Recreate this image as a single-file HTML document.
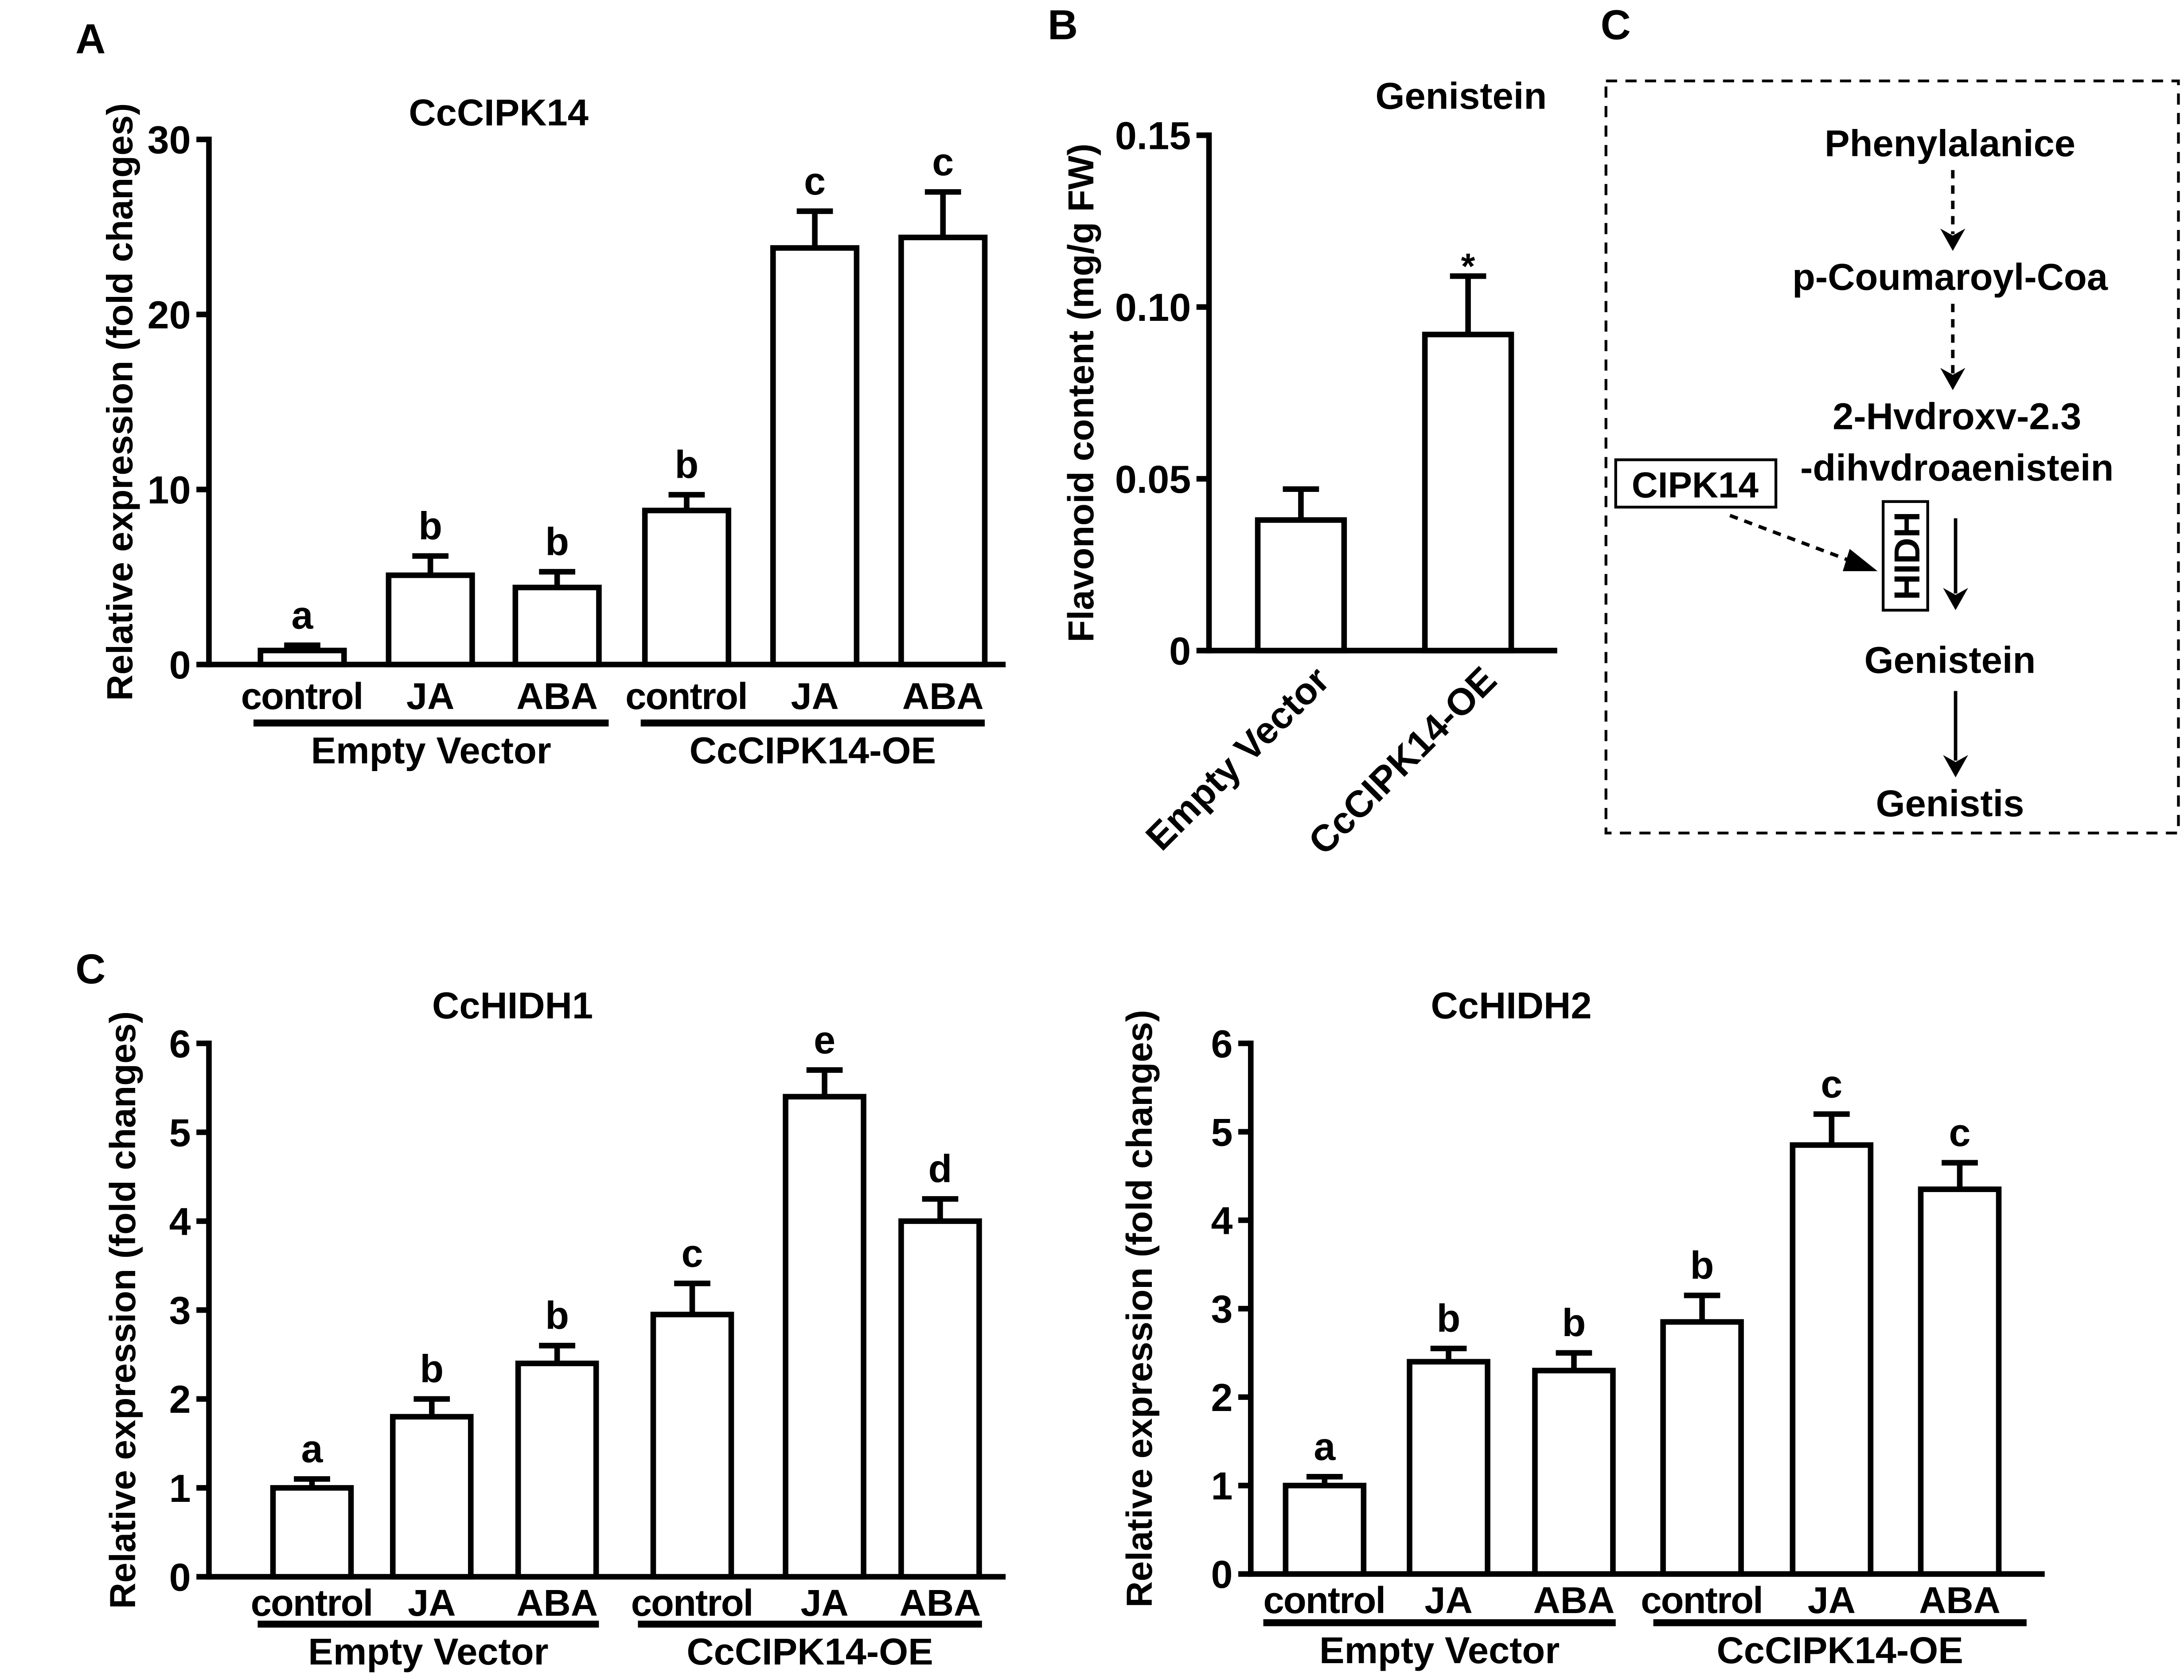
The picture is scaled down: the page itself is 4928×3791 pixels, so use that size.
<!DOCTYPE html>
<html><head><meta charset="utf-8"><style>
html,body{margin:0;padding:0;background:#fff;}
svg{display:block;}
text{font-family:"Liberation Sans",Arial,sans-serif;font-weight:bold;fill:#000;}
</style></head><body>
<svg id="fig" width="4928" height="3791" viewBox="0 0 1568 1206" xmlns="http://www.w3.org/2000/svg">
<rect width="1568" height="1206" fill="#fff"/>
<g id="root"></g>
</svg>
<script>
// Panel A data
const catsA = ["control","JA","ABA","control","JA","ABA"];
const valsA = [0.8, 5.1, 4.4, 8.8, 23.8, 24.4];
const errA = [1.1, 6.2, 5.3, 9.7, 25.9, 27.0];
const lettersA = ["a","b","b","b","c","c"];
const ticksA = [0,10,20,30];
// Panel B data
const catsB = ["Empty Vector","CcCIPK14-OE"];
const valsB = [0.038, 0.092];
const errB = [0.047, 0.109];
const ticksB = [0,0.05,0.10,0.15];
const tickLabelsB = ["0","0.05","0.10","0.15"];
// HIDH1
const valsH1 = [1.0, 1.8, 2.4, 2.95, 5.4, 4.0];
const errH1 = [1.1, 2.0, 2.6, 3.3, 5.7, 4.25];
const lettersH1 = ["a","b","b","c","e","d"];
// HIDH2
const valsH2 = [1.0, 2.4, 2.3, 2.85, 4.85, 4.35];
const errH2 = [1.1, 2.55, 2.5, 3.15, 5.2, 4.65];
const lettersH2 = ["a","b","b","b","c","c"];
const ticksH = [0,1,2,3,4,5,6];
const groups = ["Empty Vector","CcCIPK14-OE"];

const NS="http://www.w3.org/2000/svg";
const root=document.getElementById('root');
function mk(tag,attrs,parent,txt){const e=document.createElementNS(NS,tag);for(const k in attrs)e.setAttribute(k,attrs[k]);if(txt!==undefined)e.textContent=txt;(parent||root).appendChild(e);return e;}

function panel(cfg){
  const g=mk('g',{});
  
  
  const y=v=>cfg.y0-(v-cfg.min)/(cfg.max-cfg.min)*(cfg.y0-cfg.y1);
  const ax=mk('line',{x1:cfg.ax,y1:cfg.y1-2,x2:cfg.ax,y2:cfg.y0+2,stroke:'#000','stroke-width':4},g);
  
  
  const bx=mk('line',{x1:cfg.ax-2,y1:cfg.y0,x2:cfg.xend,y2:cfg.y0,stroke:'#000','stroke-width':4},g);
  
  
  cfg.ticks.forEach((t,i)=>{
    mk('line',{x1:cfg.ax-9,y1:y(t),x2:cfg.ax,y2:y(t),stroke:'#000','stroke-width':4},g);
    const tl=mk('text',{x:cfg.ax-13,y:y(t)+10,'font-size':28,'text-anchor':'end'},g,cfg.tickLabels?cfg.tickLabels[i]:String(t));
    
    
  });
  cfg.vals.forEach((v,i)=>{
    const cx=cfg.centers[i], w=cfg.bw;
    const top=y(v), et=y(cfg.err[i]);
    mk('line',{x1:cx,y1:top,x2:cx,y2:et,stroke:'#000','stroke-width':4},g);
    mk('line',{x1:cx-13,y1:et,x2:cx+13,y2:et,stroke:'#000','stroke-width':4},g);
    const r=mk('rect',{x:cx-w/2,y:top,width:w,height:cfg.y0-top,fill:'#fff',stroke:'#000','stroke-width':4},g);
    
    
    if(cfg.letters){
      const l=mk('text',{x:cx,y:et-12,'font-size':28,'text-anchor':'middle'},g,cfg.letters[i]);
      
      
    }
  });
  const t=mk('text',{x:cfg.tx,y:cfg.ty,'font-size':27,'text-anchor':'middle'},g,cfg.title);
  
  
  const yl=mk('text',{x:0,y:0,'font-size':26,'text-anchor':'middle',transform:`translate(${cfg.ylx},${(cfg.y0+cfg.y1)/2}) rotate(-90)`},g,cfg.ylabel);
  
  
  return {g,y};
}

function groupLabels(p,cfg){
  cfg.cats.forEach((c,i)=>{
    const t=mk('text',{x:cfg.centers[i],y:cfg.labY,'font-size':27,'text-anchor':'middle'},p.g,c);
    if(c==='control')t.setAttribute('textLength',88);
    
    
  });
  cfg.lines.forEach((ln,i)=>{
    mk('line',{x1:ln[0],y1:cfg.lineY,x2:ln[1],y2:cfg.lineY,stroke:'#000','stroke-width':5},p.g);
    const t=mk('text',{x:(ln[0]+ln[1])/2,y:cfg.lineY+29,'font-size':27,'text-anchor':'middle'},p.g,groups[i]);
    
    
  });
}

const cA={name:'panel-a-chart',ax:150,y0:477,y1:100,min:0,max:30,xend:722,ticks:ticksA,vals:valsA,err:errA,letters:lettersA,
  centers:[217,309,400,493,585,677],bw:60,title:'CcCIPK14',tx:358,ty:90,ylabel:'Relative expression (fold changes)',ylx:95,
  cats:catsA,labY:509,lines:[[182,437],[460,707]],lineY:519};
groupLabels(panel(cA),cA);

const cB={name:'panel-b-chart',ax:868,y0:467,y1:97,min:0,max:0.15,xend:1118,ticks:ticksB,tickLabels:tickLabelsB,vals:valsB,err:errB,
  centers:[934,1054],bw:62,title:'Genistein',tx:1049,ty:78,ylabel:'Flavonoid content (mg/g FW)',ylx:785};
const pB=panel(cB);
catsB.forEach((c,i)=>{
  const t=mk('text',{x:0,y:0,'font-size':27,'text-anchor':'end',transform:`translate(${cB.centers[i]+22},${490}) rotate(-45)`},pB.g,c);
  
  
});
const star=mk('text',{x:1054,y:200,'font-size':26,'text-anchor':'middle'},pB.g,'*');



const cH1={name:'hidh1-chart',ax:150,y0:1132,y1:749,min:0,max:6,xend:722,ticks:ticksH,vals:valsH1,err:errH1,letters:lettersH1,
  centers:[224,310,400,497,592,675],bw:56,title:'CcHIDH1',tx:368,ty:731,ylabel:'Relative expression (fold changes)',ylx:97,
  cats:catsA,labY:1160,lines:[[185,430],[458,705]],lineY:1166};
groupLabels(panel(cH1),cH1);

const cH2={name:'hidh2-chart',ax:898,y0:1130,y1:749,min:0,max:6,xend:1468,ticks:ticksH,vals:valsH2,err:errH2,letters:lettersH2,
  centers:[951,1040,1130,1222,1315,1407],bw:56,title:'CcHIDH2',tx:1085,ty:731,ylabel:'Relative expression (fold changes)',ylx:827,
  cats:catsA,labY:1158,lines:[[907,1160],[1187,1455]],lineY:1165};
groupLabels(panel(cH2),cH2);

[['A',65,38],['B',763,28],['C',1160,28],['C',65,706]].forEach(a=>{
  const t=mk('text',{x:a[1],y:a[2],'font-size':30,'text-anchor':'middle'},root,a[0]);
  
  
});

const d=mk('g',{});


mk('rect',{x:1153,y:58,width:411,height:540,fill:'none',stroke:'#000','stroke-width':2,'stroke-dasharray':'8,6'},d);
const steps=[['Phenylalanice',1400,112],['p-Coumaroyl-Coa',1400,208],['2-Hvdroxv-2.3',1405,308],['-dihvdroaenistein',1405,345],['Genistein',1400,483],['Genistis',1400,586]];
steps.forEach(s=>{
  const t=mk('text',{x:s[1],y:s[2],'font-size':27,'text-anchor':'middle'},d,s[0]);
  
  
});
function arrow(x,y1,y2,dash){
  mk('line',{x1:x,y1:y1,x2:x,y2:y2-12,stroke:'#000','stroke-width':2.5,'stroke-dasharray':dash?'6,5':'none'},d);
  mk('path',{d:`M${x-9},${y2-16} L${x},${y2} L${x+9},${y2-16} L${x},${y2-11} Z`,fill:'#000'},d);
}
arrow(1402,122,180,true);
arrow(1402,218,280,true);
arrow(1404,372,438,false);
arrow(1404,496,558,false);
mk('rect',{x:1160,y:330,width:115,height:34,fill:'none',stroke:'#000','stroke-width':2},d);
const ck=mk('text',{x:1217,y:357,'font-size':26,'text-anchor':'middle'},d,'CIPK14');


mk('rect',{x:1352,y:360,width:32,height:78,fill:'none',stroke:'#000','stroke-width':2},d);
const hd=mk('text',{x:0,y:0,'font-size':26,'text-anchor':'middle',transform:'translate(1378,399) rotate(-90)'},d,'HIDH');


mk('line',{x1:1242,y1:370,x2:1335,y2:405,stroke:'#000','stroke-width':2.5,'stroke-dasharray':'6,5'},d);
mk('path',{d:'M1328,394 L1348,410 L1323,410 Z',fill:'#000'},d);
</script>
</body></html>
